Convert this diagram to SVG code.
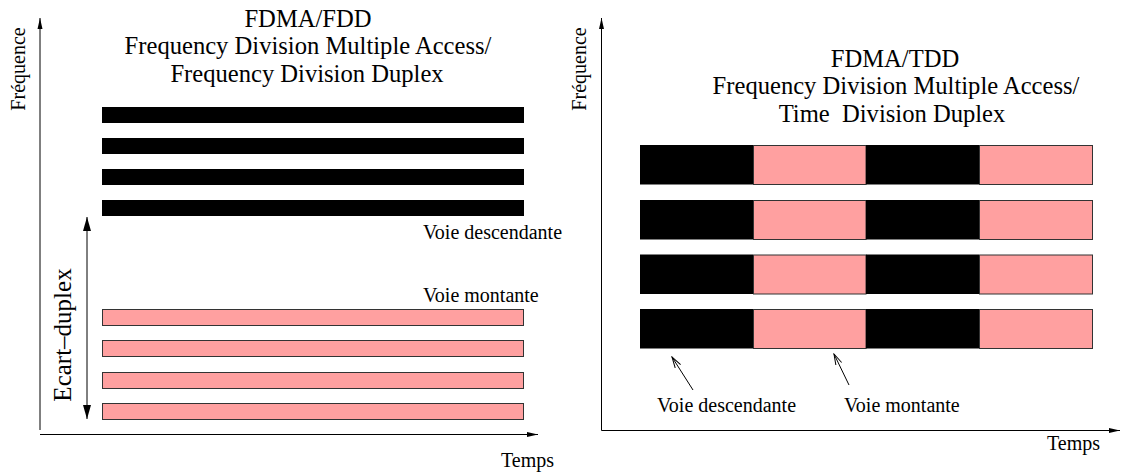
<svg xmlns="http://www.w3.org/2000/svg" width="1121" height="473" viewBox="0 0 1121 473">
<style>
text{font-family:"Liberation Serif","Times New Roman",serif;fill:#000}
.title{font-size:24.6px;text-anchor:middle}
.lbl{font-size:20px}
.axis{stroke:#000;stroke-width:1;fill:none}
.dl{fill:#000}
.ul{fill:#ffa0a0;stroke:#333;stroke-width:1}
.blk{fill:#000}
</style>
<defs>
<marker id="axhead" markerUnits="userSpaceOnUse" markerWidth="12" markerHeight="6" refX="11" refY="3" orient="auto">
<path d="M0,0.5 L11,3 L0,5.5 z" fill="#000"/>
</marker>
<marker id="dblhead" markerUnits="userSpaceOnUse" markerWidth="15" markerHeight="9" refX="14" refY="4.5" orient="auto-start-reverse">
<path d="M0,0.5 L14,4.5 L0,8.5 z" fill="#000"/>
</marker>
<marker id="openhead" markerUnits="userSpaceOnUse" markerWidth="12" markerHeight="8" refX="11" refY="4" orient="auto">
<path d="M0,0.8 L11,4 L0,7.2" fill="none" stroke="#000" stroke-width="1"/>
</marker>
</defs>

<g id="connectors">
<line class="axis" x1="40" y1="430" x2="40" y2="18" marker-end="url(#axhead)"/>
<line class="axis" x1="40" y1="434.5" x2="538" y2="434.5" marker-end="url(#axhead)"/>
<line class="axis" x1="87" y1="217" x2="87" y2="419" marker-start="url(#dblhead)" marker-end="url(#dblhead)"/>
<line class="axis" x1="601.5" y1="430.5" x2="601.5" y2="18" marker-end="url(#axhead)"/>
<line class="axis" x1="601.5" y1="430.5" x2="1120" y2="430.5" marker-end="url(#axhead)"/>
<line class="axis" x1="693" y1="390" x2="672" y2="357" marker-end="url(#openhead)"/>
<line class="axis" x1="849" y1="385" x2="834" y2="354" marker-end="url(#openhead)"/>
</g>

<g id="fdd-title">
<text class="title" x="308" y="26.5">FDMA/FDD</text>
<text class="title" x="308" y="54">Frequency Division Multiple Access/</text>
<text class="title" x="307" y="81.5">Frequency Division Duplex</text>
</g>
<g id="fdd-freq-label"><text class="lbl" text-anchor="middle" transform="translate(25,69) rotate(-90)">Fréquence</text></g>
<g id="fdd-downlink">
<rect class="dl" x="102" y="107" width="422" height="16"/>
<rect class="dl" x="102" y="138" width="422" height="16"/>
<rect class="dl" x="102" y="169" width="422" height="16"/>
<rect class="dl" x="102" y="200" width="422" height="16"/>
</g>
<g id="fdd-uplink">
<rect class="ul" x="102.5" y="309.5" width="421" height="16"/>
<rect class="ul" x="102.5" y="340.5" width="421" height="16"/>
<rect class="ul" x="102.5" y="372.5" width="421" height="16"/>
<rect class="ul" x="102.5" y="403.5" width="421" height="16"/>
</g>
<g id="fdd-labels">
<text class="lbl" x="423" y="239">Voie descendante</text>
<text class="lbl" x="423" y="302">Voie montante</text>
<text class="lbl" x="501" y="467">Temps</text>
<text font-size="25" text-anchor="middle" transform="translate(71,335) rotate(-90)">Ecart–duplex</text>
</g>

<g id="tdd-title">
<text class="title" x="895" y="66.5">FDMA/TDD</text>
<text class="title" x="896" y="94">Frequency Division Multiple Access/</text>
<text class="title" x="892" y="121.5" style="white-space:pre">Time  Division Duplex</text>
</g>
<g id="tdd-freq-label"><text class="lbl" text-anchor="middle" transform="translate(586,69) rotate(-90)">Fréquence</text></g>
<g id="tdd-slots">
<rect class="blk" x="640" y="145" width="113" height="39.5"/>
<rect class="ul" x="753.5" y="145.5" width="112.5" height="39"/>
<rect class="blk" x="866" y="145" width="113" height="39.5"/>
<rect class="ul" x="979.5" y="145.5" width="113" height="39"/>

<rect class="blk" x="640" y="200" width="113" height="39.5"/>
<rect class="ul" x="753.5" y="200.5" width="112.5" height="39"/>
<rect class="blk" x="866" y="200" width="113" height="39.5"/>
<rect class="ul" x="979.5" y="200.5" width="113" height="39"/>

<rect class="blk" x="640" y="254.5" width="113" height="39.5"/>
<rect class="ul" x="753.5" y="255" width="112.5" height="39"/>
<rect class="blk" x="866" y="254.5" width="113" height="39.5"/>
<rect class="ul" x="979.5" y="255" width="113" height="39"/>

<rect class="blk" x="640" y="309" width="113" height="39.5"/>
<rect class="ul" x="753.5" y="309.5" width="112.5" height="39"/>
<rect class="blk" x="866" y="309" width="113" height="39.5"/>
<rect class="ul" x="979.5" y="309.5" width="113" height="39"/>
</g>
<g id="tdd-labels">
<text class="lbl" x="657" y="412">Voie descendante</text>
<text class="lbl" x="844" y="412">Voie montante</text>
<text class="lbl" x="1047" y="450">Temps</text>
</g>
</svg>
